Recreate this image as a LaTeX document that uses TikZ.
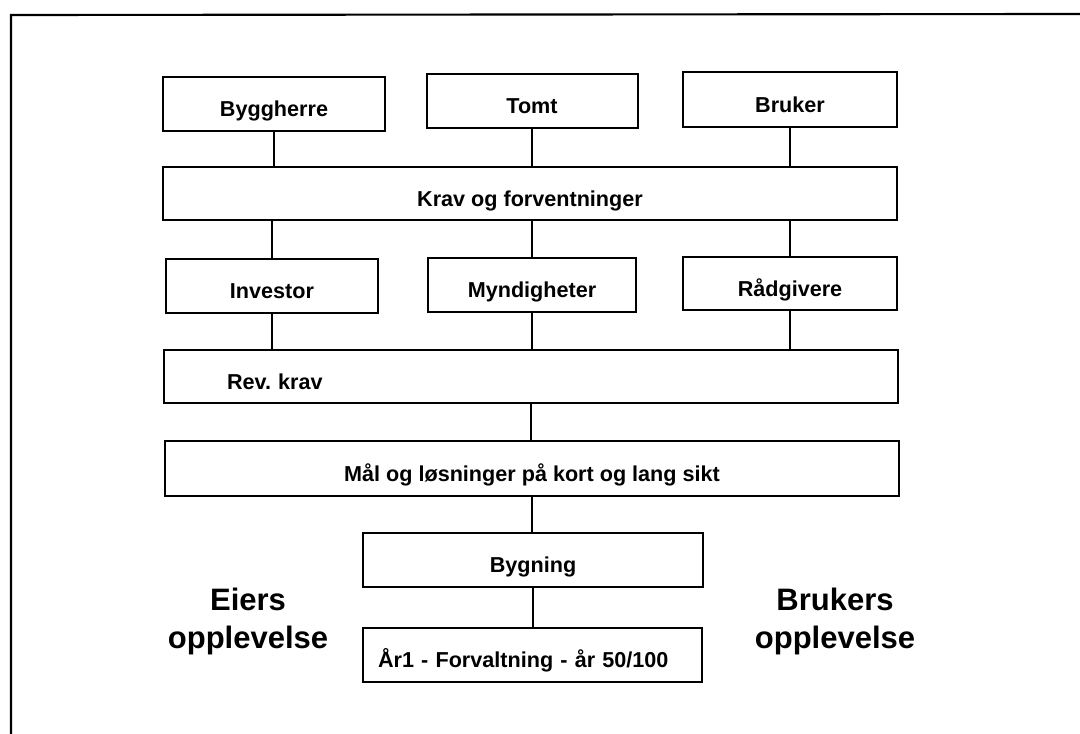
\documentclass[tikz,border=0pt]{standalone}
\usepackage{fontspec}
\setmainfont{Liberation Sans}
\frenchspacing
\begin{document}
\begin{tikzpicture}[x=0.75pt,y=-0.75pt,
  box/.style={draw, line width=1.5pt, inner sep=0pt, font=\bfseries\fontsize{16.2}{18}\selectfont, text height=19pt, text depth=0pt},
  link/.style={line width=1.1pt},
  big/.style={font=\bfseries\fontsize{23.25}{28.5}\selectfont, align=center, inner sep=0pt}]
\useasboundingbox (0,0) rectangle (1080,734);
\draw[line width=1.6pt] (11,734) -- (11,15) -- (1080,14);

\node[box, minimum width=166.5pt, minimum height=40.5pt] (byg) at (274,104) {Byggherre};
\node[box, minimum width=158.25pt, minimum height=40.5pt] (tomt) at (532,101) {Tomt};
\node[box, minimum width=160.5pt, minimum height=41.25pt] (bruk) at (790,99.5) {Bruker};
\node[box, minimum width=550.5pt, minimum height=39.75pt] (krav) at (530,193.5) {Krav og forventninger};

\node[box, minimum width=159pt, minimum height=40.5pt] (inv) at (272,286) {Investor};
\node[box, minimum width=156pt, minimum height=40.5pt] (mynd) at (532,285) {Myndigheter};
\node[box, minimum width=160.5pt, minimum height=39.75pt] (raad) at (790,283.5) {Rådgivere};
\node[box, minimum width=550.5pt, minimum height=39.75pt, text width=456pt, align=left] (rev) at (531,376.5) {Rev. krav};

\node[box, minimum width=550.5pt, minimum height=41.25pt] (maal) at (532,468.5) {Mål og løsninger på kort og lang sikt};
\node[box, minimum width=255pt, minimum height=40.5pt] (bygn) at (533,560) {Bygning};
\node[box, minimum width=254.25pt, minimum height=40.5pt, text width=231.75pt, align=left] (aar) at (532.5,655) {År1 - Forvaltning - år 50/100};

\draw[link] (byg.south) -- (krav.north -| byg.south);
\draw[link] (tomt.south) -- (krav.north -| tomt.south);
\draw[link] (bruk.south) -- (krav.north -| bruk.south);
\draw[link] (krav.south -| inv.north) -- (inv.north);
\draw[link] (krav.south -| mynd.north) -- (mynd.north);
\draw[link] (krav.south -| raad.north) -- (raad.north);
\draw[link] (inv.south) -- (rev.north -| inv.south);
\draw[link] (mynd.south) -- (rev.north -| mynd.south);
\draw[link] (raad.south) -- (rev.north -| raad.south);
\draw[link] (rev.south) -- (maal.north -| rev.south);
\draw[link] (maal.south) -- (bygn.north -| maal.south);
\draw[link] (bygn.south) -- (aar.north -| bygn.south);

\node[big] (eiers) at (248,621) {Eiers\\opplevelse};
\node[big] (brukers) at (835,621) {Brukers\\opplevelse};
\end{tikzpicture}
\end{document}
